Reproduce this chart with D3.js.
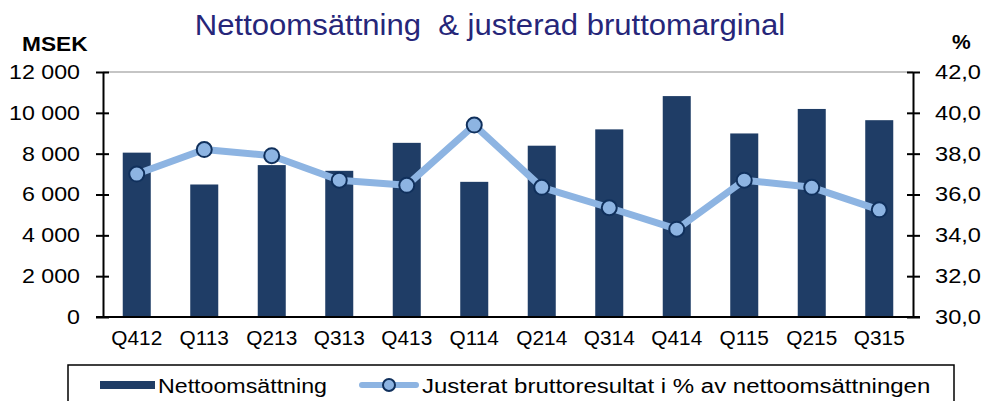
<!DOCTYPE html>
<html>
<head>
<meta charset="utf-8">
<script src="https://cdn.jsdelivr.net/npm/d3@7"></script>
<style>
  body { margin: 0; background: #fff; }
  text { font-family: "Liberation Sans", Arial, sans-serif; }
</style>
</head>
<body>
<svg id="chart"></svg>
<script>
// data
const quarters = ['Q412', 'Q113', 'Q213', 'Q313', 'Q413', 'Q114', 'Q214', 'Q314', 'Q414', 'Q115', 'Q215', 'Q315'];
const netSales = [8050, 6490, 7440, 7160, 8530, 6620, 8390, 9190, 10820, 8990, 10190, 9640];
const grossMargin = [37.0, 38.2, 37.9, 36.7, 36.45, 39.4, 36.35, 35.35, 34.3, 36.7, 36.35, 35.25];
const salesTicks = [0, 2000, 4000, 6000, 8000, 10000, 12000];
const marginTicks = [30, 32, 34, 36, 38, 40, 42];

const width = 986, height = 401;
const margin = {top: 72, right: 73, bottom: 84, left: 103};
const barColor = '#1f3d66';
const lineColor = '#8db4e2';
const markerStroke = '#10305c';

const svg = d3.select('#chart')
    .attr('width', width)
    .attr('height', height);

// stretch a text horizontally, the reference glyphs are a bit wide
function widen(sel, factor) {
  sel.each(function() {
    const w = this.getComputedTextLength();
    d3.select(this).attr('textLength', w * factor).attr('lengthAdjust', 'spacingAndGlyphs');
  });
}

const x = d3.scaleBand()
    .domain(quarters)
    .range([margin.left, width - margin.right])
    .paddingInner(0.585)
    .paddingOuter(0.2925);

const yLeft = d3.scaleLinear()
    .domain([0, 12000])
    .range([height - margin.bottom, margin.top]);

const yRight = d3.scaleLinear()
    .domain([30, 42])
    .range([height - margin.bottom, margin.top]);

const fmtSales = d => d3.format(',')(d).replace(/,/g, ' ');
const fmtMargin = d => d.toFixed(1).replace('.', ',');

// title
svg.append('text')
    .attr('x', 490)
    .attr('y', 35)
    .attr('text-anchor', 'middle')
    .attr('font-size', 30)
    .attr('fill', '#262679')
    .attr('xml:space', 'preserve')
    .text('Nettoomsättning  & justerad bruttomarginal')
    .call(widen, 1.035);

svg.append('text')
    .attr('x', 22).attr('y', 51)
    .attr('font-size', 21).attr('font-weight', 'bold')
    .text('MSEK')
    .call(widen, 1.08);

svg.append('text')
    .attr('x', 952).attr('y', 49)
    .attr('font-size', 21).attr('font-weight', 'bold')
    .text('%');

// top border of plot area
svg.append('line')
    .attr('x1', margin.left).attr('x2', width - margin.right)
    .attr('y1', margin.top).attr('y2', margin.top)
    .attr('stroke', '#8c8c8c').attr('stroke-width', 1.2);

// bars
svg.append('g')
  .selectAll('rect')
  .data(quarters)
  .join('rect')
    .attr('x', d => x(d))
    .attr('y', (d, i) => yLeft(netSales[i]))
    .attr('width', x.bandwidth())
    .attr('height', (d, i) => yLeft(0) - yLeft(netSales[i]))
    .attr('fill', barColor);

// axes
const leftAxis = svg.append('g')
    .attr('transform', `translate(${margin.left},0)`)
    .call(d3.axisLeft(yLeft).tickValues(salesTicks).tickFormat(fmtSales).tickSizeInner(7).tickSizeOuter(0).tickPadding(16));
leftAxis.selectAll('.tick line').attr('x2', 6).attr('x1', -7);

const rightAxis = svg.append('g')
    .attr('transform', `translate(${width - margin.right},0)`)
    .call(d3.axisRight(yRight).tickValues(marginTicks).tickFormat(fmtMargin).tickSizeInner(7).tickSizeOuter(0).tickPadding(15));
rightAxis.selectAll('.tick line').attr('x1', -6).attr('x2', 7);

const bottomAxis = svg.append('g')
    .attr('transform', `translate(0,${height - margin.bottom})`)
    .call(d3.axisBottom(x).tickSize(0).tickPadding(10));
bottomAxis.select('.domain').attr('d', `M${margin.left - 7},0H${width - margin.right + 7}`);

[leftAxis, rightAxis, bottomAxis].forEach(g => {
  g.select('.domain').attr('stroke', '#000').attr('stroke-width', 2);
  g.selectAll('.tick line').attr('stroke', '#000').attr('stroke-width', 2);
  g.selectAll('.tick text')
      .attr('font-family', '"Liberation Sans", Arial, sans-serif')
      .attr('font-size', 20)
      .attr('fill', '#000');
});
leftAxis.selectAll('.tick text').call(widen, 1.16);
rightAxis.selectAll('.tick text').call(widen, 1.18);
bottomAxis.selectAll('.tick text').attr('dy', '0.9em').call(widen, 1.04);

// margin line
const line = d3.line()
    .x((d, i) => x(quarters[i]) + x.bandwidth() / 2)
    .y(d => yRight(d));

svg.append('path')
    .datum(grossMargin)
    .attr('d', line)
    .attr('fill', 'none')
    .attr('stroke', lineColor)
    .attr('stroke-width', 7)
    .attr('stroke-linejoin', 'round');

svg.append('g')
  .selectAll('circle')
  .data(grossMargin)
  .join('circle')
    .attr('cx', (d, i) => x(quarters[i]) + x.bandwidth() / 2)
    .attr('cy', d => yRight(d))
    .attr('r', 7.5)
    .attr('fill', lineColor)
    .attr('stroke', markerStroke)
    .attr('stroke-width', 2);

// legend
const legend = svg.append('g');
legend.append('rect')
    .attr('x', 68).attr('y', 365)
    .attr('width', 886).attr('height', 60)
    .attr('fill', 'none').attr('stroke', '#000').attr('stroke-width', 1.5);

legend.append('rect')
    .attr('x', 100).attr('y', 381)
    .attr('width', 55).attr('height', 8)
    .attr('fill', barColor);
legend.append('text')
    .attr('x', 158).attr('y', 393)
    .attr('font-size', 20)
    .text('Nettoomsättning')
    .call(widen, 1.16);

legend.append('line')
    .attr('x1', 362).attr('x2', 416)
    .attr('y1', 385).attr('y2', 385)
    .attr('stroke', lineColor).attr('stroke-width', 6)
    .attr('stroke-linecap', 'round');
legend.append('circle')
    .attr('cx', 389).attr('cy', 385).attr('r', 6)
    .attr('fill', lineColor)
    .attr('stroke', markerStroke).attr('stroke-width', 2);
legend.append('text')
    .attr('x', 422).attr('y', 393)
    .attr('font-size', 20)
    .text('Justerat bruttoresultat i % av nettoomsättningen')
    .call(widen, 1.2);
</script>
</body>
</html>
